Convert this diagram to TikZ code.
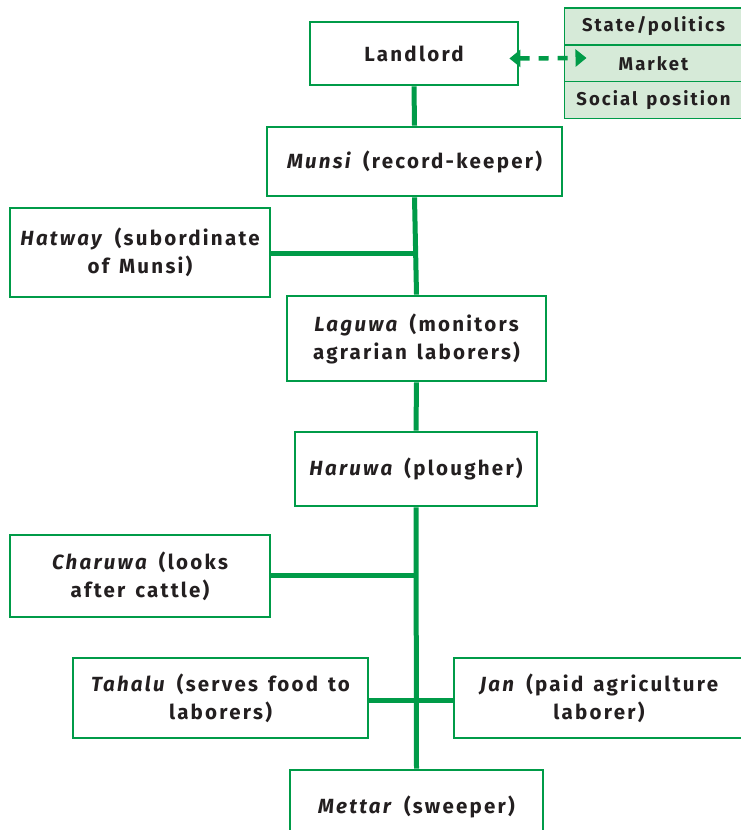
\documentclass[tikz,border=0pt]{standalone}
\usepackage{fontspec}
\setmainfont{Fira Sans}[LetterSpace=11,WordSpace=1.4]
\usetikzlibrary{arrows.meta}
\definecolor{grn}{RGB}{0,155,72}
\definecolor{lgrn}{RGB}{214,234,216}
\definecolor{txt}{RGB}{35,31,32}
\begin{document}
\begin{tikzpicture}[x=1pt,y=1pt,
  box/.style={draw=grn, line width=2.8pt, fill=white, align=center, inner sep=2pt,
    font=\fontsize{20.5}{28}\selectfont\bfseries, text=txt},
  side/.style={draw=grn, line width=1.5pt, fill=lgrn, minimum width=178pt, minimum height=37pt,
    inner sep=0pt, font=\fontsize{18.5}{20}\selectfont\bfseries, text=txt},
  trunk/.style={draw=grn, line width=5pt}]
\useasboundingbox (0,0) rectangle (740,-830);
% side stack
\node[side] (state) at (653.5,-26.5) {State/politics};
\node[side] (market) at (653.5,-63.5) {Market};
\node[side] (social) at (653.5,-100) {Social position};
% main boxes
\node[box, minimum width=208pt, minimum height=63pt] (landlord) at (414,-53.5) {Landlord};
\node[box, minimum width=295pt, minimum height=69pt] (munsi) at (414.5,-161.5) {\textit{Munsi} (record-keeper)};
\node[box, minimum width=260pt, minimum height=89pt] (hatway) at (140,-252.5) {\textit{Hatway} (subordinate\\of Munsi)};
\node[box, minimum width=259pt, minimum height=85pt] (laguwa) at (416.5,-338.5) {\textit{Laguwa} (monitors\\agrarian laborers)};
\node[box, minimum width=242pt, minimum height=74pt] (haruwa) at (416,-469) {\textit{Haruwa} (plougher)};
\node[box, minimum width=260pt, minimum height=82pt] (charuwa) at (140,-576) {\textit{Charuwa} (looks\\after cattle)};
\node[box, minimum width=295pt, minimum height=80pt] (tahalu) at (220.5,-698) {\textit{Tahalu} (serves food to\\laborers)};
\node[box, minimum width=290pt, minimum height=80pt] (jan) at (599,-698) {\textit{Jan} (paid agriculture\\laborer)};
\node[box, minimum width=253pt, minimum height=74pt] (mettar) at (416.5,-807) {\textit{Mettar} (sweeper)};
% trunk
\coordinate (tA) at (416,-253);
\coordinate (tB) at (416,-575);
\coordinate (tC) at (416,-700);
\draw[trunk] (landlord.south) -- (munsi.north);
\draw[trunk] (munsi.south) -- (laguwa.north);
\draw[trunk] (laguwa.south) -- (haruwa.north);
\draw[trunk] (haruwa.south) -- (mettar.north);
\draw[trunk] (hatway.east |- tA) -- (tA);
\draw[trunk] (charuwa.east |- tB) -- (tB);
\draw[trunk] (tahalu.east |- tC) -- (jan.west |- tC);
% dashed arrow
\draw[grn, line width=4.5pt, dash pattern=on 10pt off 9pt, {Triangle[length=11pt,width=17pt]}-{Triangle[length=11pt,width=17pt]}]
  ([xshift=-10pt,yshift=-5pt]landlord.east) -- ([xshift=-67pt,yshift=5.5pt]market.center);
\end{tikzpicture}
\end{document}
